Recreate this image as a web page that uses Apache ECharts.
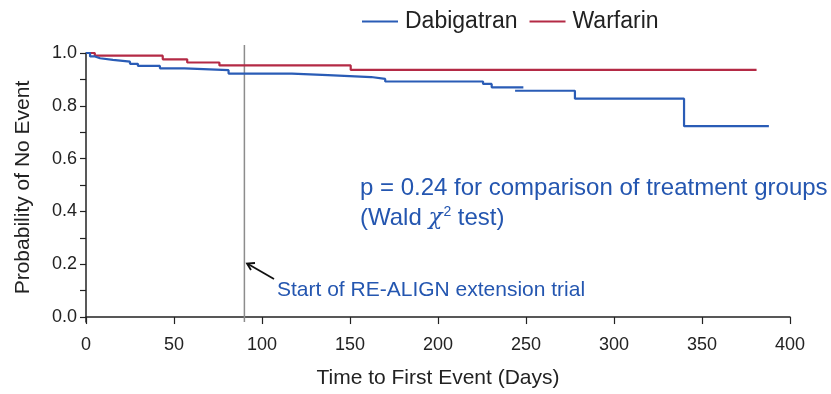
<!DOCTYPE html>
<html>
<head>
<meta charset="utf-8">
<style>
  html, body { margin: 0; padding: 0; background: #fff; }
  #chart { width: 831px; height: 394px; }
</style>
<script src="https://cdn.jsdelivr.net/npm/echarts@6/dist/echarts.min.js"></script>
</head>
<body>
<div id="chart"></div>
<script>
// Kaplan-Meier steps: [day, probability from that day on]
// dabigatran curve is drawn in two pieces because the original plot has a small overlap near day 245
const dabigatranA = [
  [0, 1.0], [2.3, 0.987], [5.1, 0.980], [8, 0.974], [15.3, 0.967], [25, 0.959],
  [29.5, 0.951], [42, 0.942], [56, 0.935], [81, 0.922], [117, 0.916], [137.5, 0.909],
  [162, 0.902], [170, 0.892], [225.6, 0.883], [230.5, 0.870], [248.5, 0.870]
]
const dabigatranB = [
  [243.8, 0.857], [277.8, 0.827], [339.8, 0.723], [388, 0.723]
]
const warfarin = [
  [0, 1.0], [5, 0.990], [43.6, 0.976], [57.5, 0.964], [75.8, 0.953], [150.4, 0.936], [381, 0.936]
]
const extensionStart = 90
const xTicks = [0, 50, 100, 150, 200, 250, 300, 350, 400]
const yTicks = [0, 0.1, 0.2, 0.3, 0.4, 0.5, 0.6, 0.7, 0.8, 0.9, 1.0]
const yLabels = [0, 0.2, 0.4, 0.6, 0.8, 1.0]

const BLUE = '#2a5cb6'
const RED = '#b42a45'
const TEXT_BLUE = '#2456b0'
const FONT = 'Liberation Sans, Arial, sans-serif'

const chart = echarts.init(document.getElementById('chart'))

const kmLine = (name, data, color) => ({
  name,
  type: 'line',
  step: 'end',
  showSymbol: false,
  data,
  lineStyle: { color, width: 2.2 },
  itemStyle: { color },
  z: 3
})

const option = {
  animation: false,
  textStyle: { fontFamily: FONT },
  legend: {
    top: 5,
    left: 357,
    itemWidth: 36,
    itemHeight: 2,
    itemGap: 12,
    icon: 'rect',
    textStyle: { fontSize: 23, color: '#222', fontFamily: FONT, padding: [0, 0, 0, 2] },
    data: ['Dabigatran', 'Warfarin']
  },
  grid: { left: 86, right: 41, top: 53, bottom: 70 },
  xAxis: {
    type: 'value',
    min: 0,
    max: 400,
    interval: 50,
    name: 'Time to First Event (Days)',
    nameLocation: 'middle',
    nameGap: 46,
    nameTextStyle: { fontSize: 21, color: '#222' },
    axisLine: { lineStyle: { color: '#222', width: 1.5 } },
    axisTick: { length: 7, lineStyle: { color: '#222', width: 1.2 } },
    axisLabel: { fontSize: 18, color: '#222', margin: 14,
      customValues: xTicks },
    splitLine: { show: false }
  },
  yAxis: {
    type: 'value',
    min: -0.0188,
    max: 1.0,
    name: 'Probability of No Event',
    nameLocation: 'middle',
    nameGap: 52,
    nameTextStyle: { fontSize: 21, color: '#222' },
    axisLine: { show: true, lineStyle: { color: '#222', width: 1.5 } },
    axisTick: { show: true, length: 6, customValues: yTicks, lineStyle: { color: '#222', width: 1.2 } },
    axisLabel: { fontSize: 18, color: '#222', margin: 9,
      customValues: yLabels, formatter: v => v.toFixed(1) },
    splitLine: { show: false }
  },
  series: [
    kmLine('Dabigatran', dabigatranA, BLUE),
    kmLine('Dabigatran', dabigatranB, BLUE),
    Object.assign(kmLine('Warfarin', warfarin, RED), { z: 2 }),
    {
      name: 'extension',
      type: 'line',
      showSymbol: false,
      clip: false,
      silent: true,
      data: [[extensionStart, -0.0188], [extensionStart, 1.03]],
      lineStyle: { color: '#8c8c8c', width: 1.5 },
      z: 1
    }
  ],
  graphic: [
    {
      type: 'text',
      left: 360,
      top: 176,
      style: {
        text: 'p = 0.24 for comparison of treatment groups',
        fontSize: 24,
        fontFamily: FONT,
        fill: TEXT_BLUE
      }
    },
    {
      type: 'text',
      left: 360,
      top: 205,
      style: {
        text: '(Wald {chi|χ}{sup|2} test)',
        fontSize: 24,
        fontFamily: FONT,
        fill: TEXT_BLUE,
        rich: {
          chi: { fontSize: 23, fontFamily: 'DejaVu Serif', fontStyle: 'italic', fill: TEXT_BLUE },
          sup: { fontSize: 14, fill: TEXT_BLUE, verticalAlign: 'top', padding: [0, 0, 12, 1] }
        }
      }
    },
    {
      type: 'text',
      left: 277,
      top: 280,
      style: {
        text: 'Start of RE-ALIGN extension trial',
        fontSize: 21,
        fontFamily: FONT,
        fill: TEXT_BLUE
      }
    },
    {
      type: 'line',
      shape: { x1: 274, y1: 279, x2: 248, y2: 264 },
      style: { stroke: '#111', lineWidth: 1.8 }
    },
    {
      type: 'polyline',
      shape: { points: [[255, 263], [247, 263.5], [251, 270]] },
      style: { stroke: '#111', lineWidth: 1.8, fill: null }
    }
  ]
}

chart.setOption(option)
</script>
</body>
</html>
